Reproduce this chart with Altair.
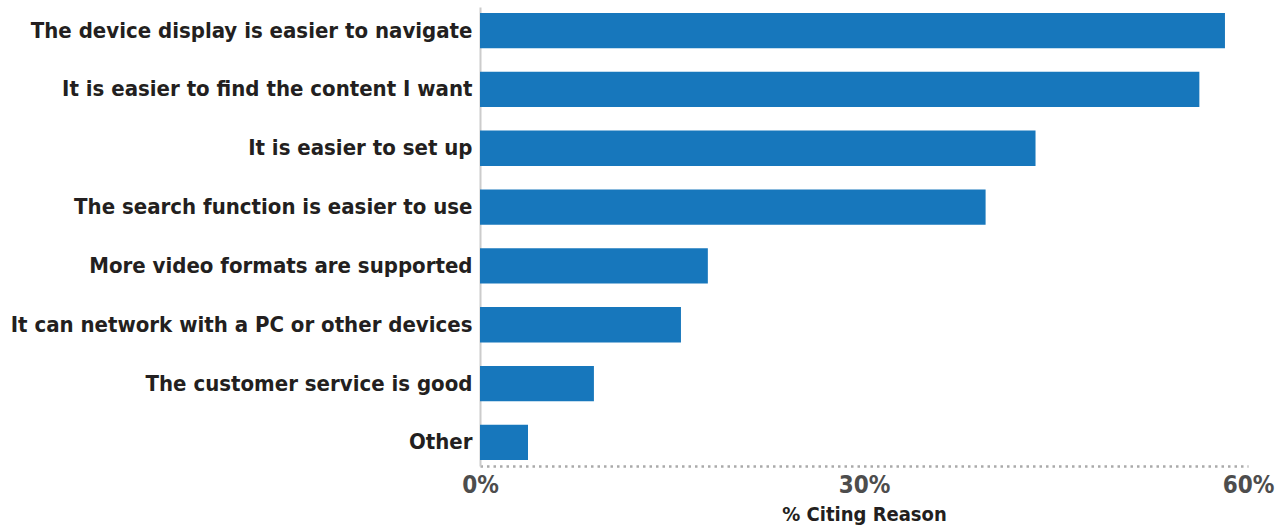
import altair as alt
import pandas as pd

reasons = [
    "The device display is easier to navigate",
    "It is easier to find the content I want",
    "It is easier to set up",
    "The search function is easier to use",
    "More video formats are supported",
    "It can network with a PC or other devices",
    "The customer service is good",
    "Other",
]
values = [58.2, 56.2, 43.4, 39.5, 17.8, 15.7, 8.9, 3.75]

df = pd.DataFrame({"reason": reasons, "value": values})

FONT = "DejaVu Sans Condensed, Roboto, sans-serif"

chart = alt.Chart(df).mark_bar(color="#1777BC").encode(
    y=alt.Y(
        "reason:N",
        sort=reasons,
        title=None,
        scale=alt.Scale(paddingInner=0.4, paddingOuter=0.1),
        axis=alt.Axis(
            ticks=False,
            domain=True,
            domainColor="#cccccc",
            domainWidth=2,
            labelFont=FONT,
            labelFontSize=22,
            labelFontWeight="bold",
            labelColor="#231F20",
            labelPadding=8,
            labelLimit=480,
        ),
    ),
    x=alt.X(
        "value:Q",
        title="% Citing Reason",
        scale=alt.Scale(domain=[0, 60], nice=False),
        axis=alt.Axis(
            values=[0, 30, 60],
            labelExpr="datum.value + '%'",
            ticks=False,
            grid=False,
            domainColor="#aaaaaa",
            domainWidth=2.5,
            domainDash=[2.5, 4],
            labelFont=FONT,
            labelFontSize=24,
            labelFontWeight="bold",
            labelColor="#4D4D4D",
            labelPadding=7,
            labelFlush=False,
            titleFont=FONT,
            titleFontSize=20,
            titleFontWeight="bold",
            titleColor="#231F20",
            titlePadding=7,
        ),
    ),
).properties(
    width=768,
    height=459,
    background="white",
    autosize=alt.AutoSizeParams(type="none"),
    padding={"left": 480, "top": 7, "right": 32, "bottom": 60},
).configure_view(stroke=None)

chart.save("out.html", embed_options={"renderer": "svg", "actions": False})
